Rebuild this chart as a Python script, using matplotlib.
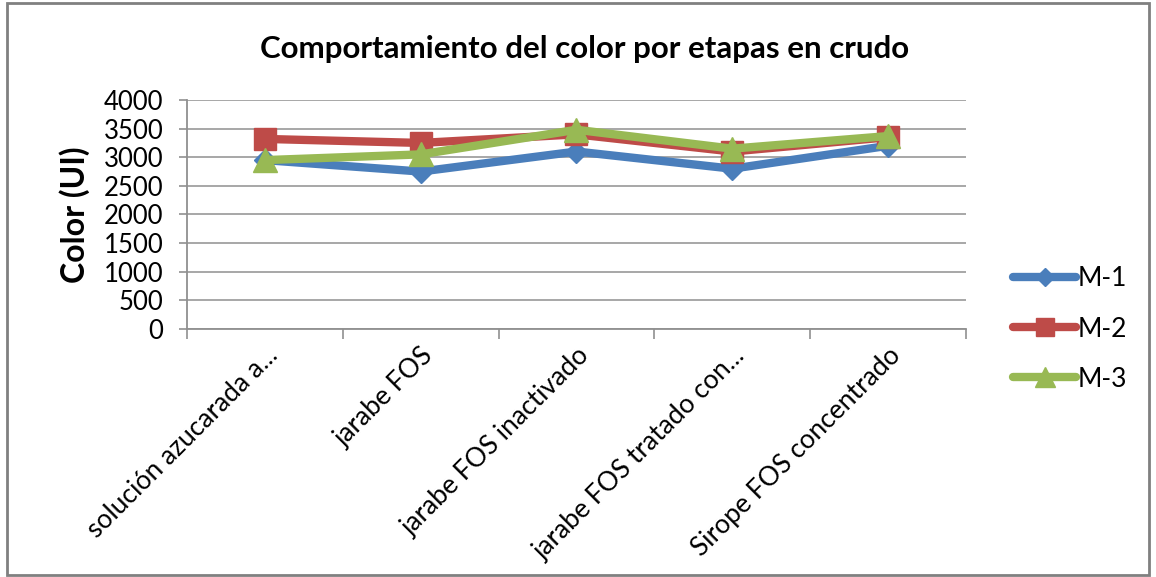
import matplotlib

matplotlib.use("Agg")
import matplotlib.pyplot as plt
import numpy as np

categories = [
    "solución azucarada a...",
    "jarabe FOS",
    "jarabe FOS inactivado",
    "jarabe FOS tratado con...",
    "Sirope FOS concentrado",
]
m1 = [2950, 2750, 3100, 2800, 3200]
m2 = [3320, 3250, 3400, 3100, 3350]
m3 = [2950, 3050, 3480, 3150, 3370]
series_names = ["M-1", "M-2", "M-3"]
y_ticks = [0, 500, 1000, 1500, 2000, 2500, 3000, 3500, 4000]

colors = ["#4A7EBB", "#BE4B48", "#98B954"]
markers = ["D", "s", "^"]
sizes = [11, 16, 17]

plt.rcParams["font.family"] = ["Lato", "DejaVu Sans"]

fig = plt.figure(figsize=(11.56, 5.77), dpi=100)
ax = fig.add_axes([0.1618, 0.4298, 0.6738, 0.3969])

x = np.arange(len(categories))
for vals, name, c, m, s in zip([m1, m2, m3], series_names, colors, markers, sizes):
    ax.plot(x, vals, color=c, lw=6, marker=m, markersize=s, label=name,
            solid_capstyle="round", solid_joinstyle="round")

ax.set_xlim(-0.5, len(categories) - 0.5)
ax.set_ylim(0, 4000)
ax.set_yticks(y_ticks)
ax.set_yticklabels([str(v) for v in y_ticks], fontsize=18.5)
ax.yaxis.grid(True, color="#a0a0a0", lw=1.3)
ax.set_axisbelow(True)

ax.set_xticks(x)
ax.set_xticklabels(categories, rotation=45, ha="right", rotation_mode="anchor", fontsize=19)
ax.tick_params(axis="x", length=0, pad=10)
ax.set_xticks(np.arange(-0.5, len(categories)), minor=True)
ax.tick_params(axis="x", which="minor", length=7, color="#909090", width=1.2)
ax.tick_params(axis="y", length=6, color="#909090", width=1.2, direction="out", pad=11)

for side in ["top", "right"]:
    ax.spines[side].set_visible(False)
for side in ["left", "bottom"]:
    ax.spines[side].set_color("#909090")
    ax.spines[side].set_linewidth(1.3)

ax.set_ylabel("Color (UI)", fontsize=23, fontweight="bold", labelpad=10)
fig.text(0.506, 0.915, "Comportamiento del color por etapas en crudo",
         ha="center", va="center", fontsize=22.5, fontweight="bold")

leg = ax.legend(loc="center left", bbox_to_anchor=(1.03, 0.0), frameon=False,
                fontsize=19, labelspacing=0.95, handlelength=2.4, handletextpad=0.05,
                markerscale=0.85)

fig.patches.append(plt.Rectangle((0.006, 0.004), 0.988, 0.99, transform=fig.transFigure,
                                 fill=False, edgecolor="#808080", lw=2))

fig.savefig("out.png", dpi=100)
plt.close(fig)
